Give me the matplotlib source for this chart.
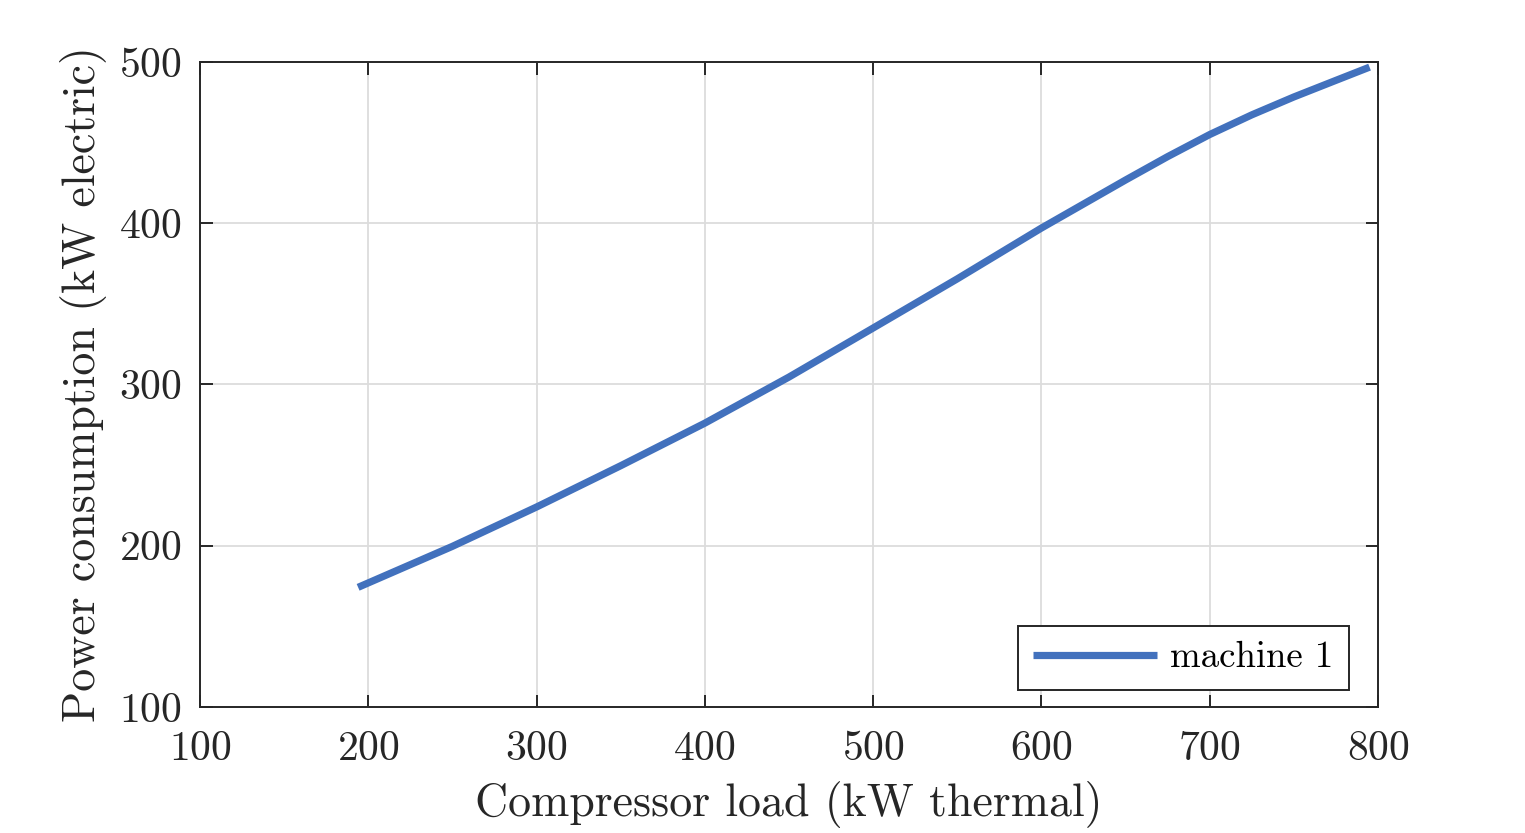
import matplotlib
matplotlib.use("Agg")
import matplotlib.pyplot as plt

plt.rcParams['font.family'] = ['cmr10', 'DejaVu Serif']
plt.rcParams['axes.formatter.use_mathtext'] = True
plt.rcParams['mathtext.fontset'] = 'cm'

load_kw = [194, 250, 300, 350, 400, 450, 500, 550, 600, 650, 675, 700, 725, 750, 775, 795]
power_kw = [174.2, 199.6, 224, 249.6, 276, 304.6, 335, 365.5, 397, 426.8, 441.3, 455, 467.2, 478.3, 488.6, 496.8]
series_label = "machine 1"
x_ticks = [100, 200, 300, 400, 500, 600, 700, 800]
y_ticks = [100, 200, 300, 400, 500]

fig = plt.figure(figsize=(15.25, 8.33), dpi=100)
ax = fig.add_axes([0.1311, 0.1513, 0.9036 - 0.1311, 0.9256 - 0.1513])

ax.plot(load_kw, power_kw, color='#4271BD', lw=5.2, label=series_label,
        solid_capstyle='butt', solid_joinstyle='round')
ax.set_xlim(100, 800)
ax.set_ylim(100, 500)
ax.set_xticks(x_ticks)
ax.set_yticks(y_ticks)
ax.grid(True, color='#dcdcdc', lw=1.3)
ax.set_axisbelow(True)
for s in ax.spines.values():
    s.set_color('#262626')
    s.set_linewidth(1.4)
ax.tick_params(direction='in', length=9, width=1.4, color='#262626',
               top=True, right=True, labelsize=30, labelcolor='#262626')
ax.tick_params(axis='x', pad=17)
ax.tick_params(axis='y', pad=13)
ax.set_xlabel('Compressor load (kW thermal)', fontsize=33, color='#262626', labelpad=9)
ax.set_ylabel('Power consumption (kW electric)', fontsize=33, color='#262626', labelpad=9)

leg = ax.legend(loc='lower right', bbox_to_anchor=(0.9754, 0.0264), borderaxespad=0,
                fontsize=26.5, fancybox=False, framealpha=1,
                edgecolor='#262626', handlelength=3.37, handletextpad=0.35,
                borderpad=0.42)
leg.get_frame().set_linewidth(1.4)

fig.savefig('out.png', dpi=100)
